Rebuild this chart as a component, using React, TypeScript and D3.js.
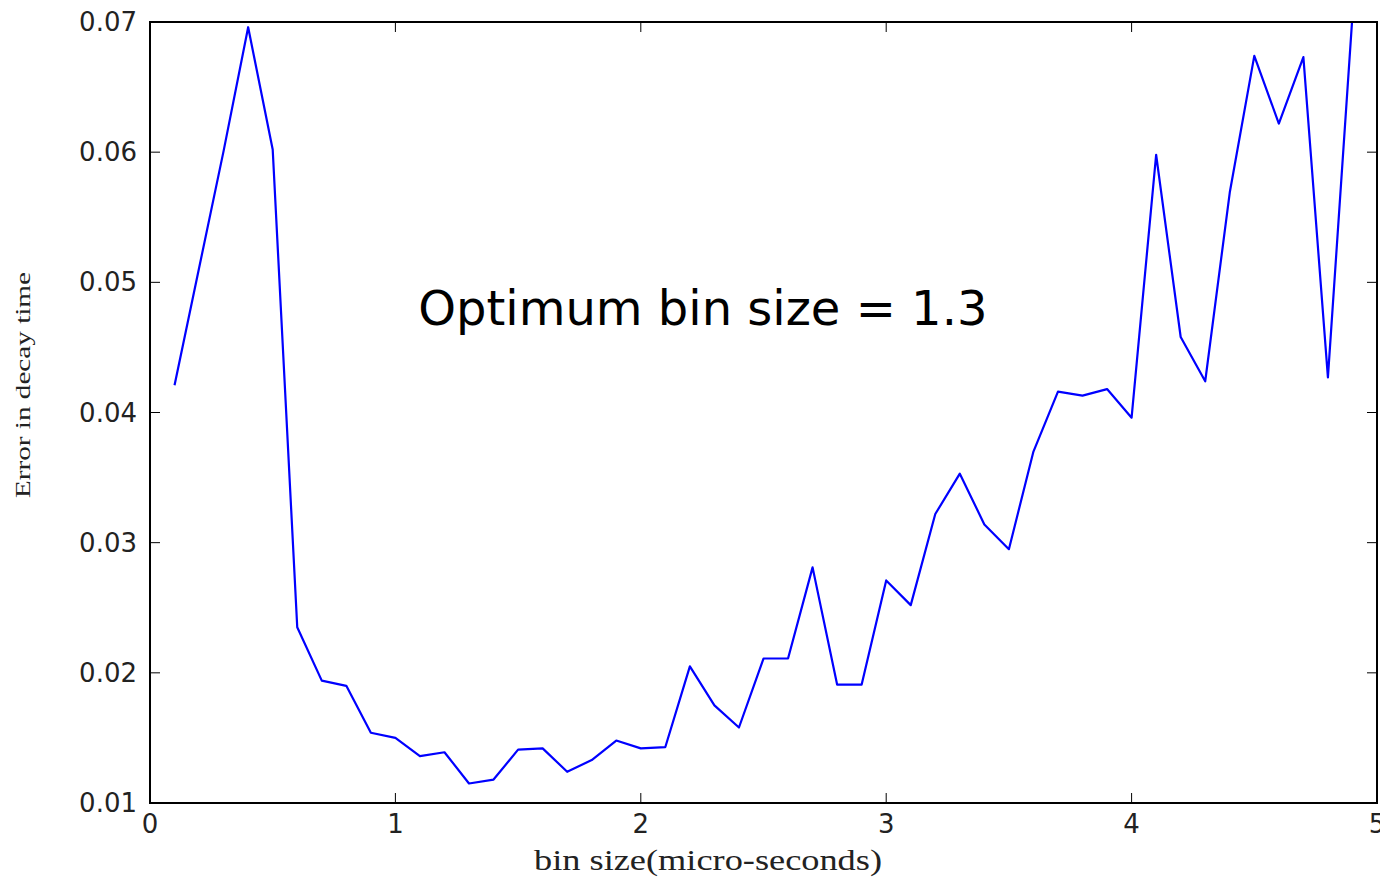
import React, { useEffect, useRef } from 'react'
import * as d3 from 'd3'

// bin size (micro-seconds) vs error in fitted decay time
const binSizes = [
    0.1, 0.2, 0.3, 0.4, 0.5, 0.6, 0.7, 0.8, 0.9, 1.0,
    1.1, 1.2, 1.3, 1.4, 1.5, 1.6, 1.7, 1.8, 1.9, 2.0,
    2.1, 2.2, 2.3, 2.4, 2.5, 2.6, 2.7, 2.8, 2.9, 3.0,
    3.1, 3.2, 3.3, 3.4, 3.5, 3.6, 3.7, 3.8, 3.9, 4.0,
    4.1, 4.2, 4.3, 4.4, 4.5, 4.6, 4.7, 4.8, 4.9
]
const decayErrors = [
    0.0421, 0.0511, 0.0601, 0.0696, 0.0602, 0.0235, 0.0194, 0.0190, 0.0154, 0.0150,
    0.0136, 0.0139, 0.0115, 0.0118, 0.0141, 0.0142, 0.0124, 0.0133, 0.0148, 0.0142,
    0.0143, 0.0205, 0.0175, 0.0158, 0.0211, 0.0211, 0.0281, 0.0191, 0.0191, 0.0271,
    0.0252, 0.0322, 0.0353, 0.0314, 0.0295, 0.0370, 0.0416, 0.0413, 0.0418, 0.0396,
    0.0598, 0.0458, 0.0424, 0.0569, 0.0674, 0.0622, 0.0673, 0.0427, 0.0705
]
const xTicks = [0, 1, 2, 3, 4, 5]
const yTicks = [0.01, 0.02, 0.03, 0.04, 0.05, 0.06, 0.07]
const annotation = "Optimum bin size = 1.3"

const W = 1380, H = 878
const margin = { top: 22, right: 3, bottom: 75, left: 150 }

const App = () => {
    const ref = useRef<SVGSVGElement>(null)

    useEffect(() => {
        const svg = d3.select(ref.current)
        svg.selectAll("*").remove()

        const width = W - margin.left - margin.right,
            height = H - margin.top - margin.bottom

        const x = d3.scaleLinear().domain([0, 5]).range([0, width])
        const y = d3.scaleLinear().domain([0.01, 0.07]).range([height, 0])

        const g = svg.append("g")
            .attr("transform", `translate(${margin.left},${margin.top})`)

        g.append("clipPath").attr("id", "plot-clip")
            .append("rect").attr("width", width).attr("height", height)

        // data line
        const pts = binSizes.map((b, i) => [b, decayErrors[i]] as [number, number])
        g.append("path")
            .datum(pts)
            .attr("clip-path", "url(#plot-clip)")
            .attr("fill", "none")
            .attr("stroke", "#0000ff")
            .attr("stroke-width", 2.2)
            .attr("stroke-linejoin", "round")
            .attr("d", d3.line().x(d => x(d[0])).y(d => y(d[1])))

        // inward ticks on all four sides (matplotlib classic)
        const tickLen = 10
        const inner = xTicks.slice(1, -1)
        const yInner = yTicks.slice(1, -1)
        const ticks = g.append("g").attr("stroke", "black").attr("stroke-width", 1)
        ticks.selectAll(".xb").data(inner).enter().append("line")
            .attr("x1", d => x(d)).attr("x2", d => x(d))
            .attr("y1", height).attr("y2", height - tickLen)
        ticks.selectAll(".xt").data(inner).enter().append("line")
            .attr("x1", d => x(d)).attr("x2", d => x(d))
            .attr("y1", 0).attr("y2", tickLen)
        ticks.selectAll(".yl").data(yInner).enter().append("line")
            .attr("y1", d => y(d)).attr("y2", d => y(d))
            .attr("x1", 0).attr("x2", tickLen)
        ticks.selectAll(".yr").data(yInner).enter().append("line")
            .attr("y1", d => y(d)).attr("y2", d => y(d))
            .attr("x1", width).attr("x2", width - tickLen)

        // frame
        g.append("rect")
            .attr("width", width).attr("height", height)
            .attr("fill", "none").attr("stroke", "black").attr("stroke-width", 2)

        // tick labels
        g.append("g").selectAll("text").data(xTicks).enter().append("text")
            .attr("x", d => x(d)).attr("y", height + 30)
            .attr("text-anchor", "middle")
            .attr("font-family", "DejaVu Sans").attr("font-size", 26)
            .attr("fill", "#222")
            .text(d => d)
        g.append("g").selectAll("text").data(yTicks).enter().append("text")
            .attr("x", -13).attr("y", d => y(d) + 9)
            .attr("text-anchor", "end")
            .attr("font-family", "DejaVu Sans").attr("font-size", 26)
            .attr("fill", "#222")
            .text(d => d3.format(".2f")(d))

        // axis titles
        svg.append("text")
            .attr("x", 708).attr("y", 870)
            .attr("text-anchor", "middle")
            .attr("font-family", "Liberation Serif").attr("font-size", 30)
            .attr("textLength", 348).attr("lengthAdjust", "spacingAndGlyphs")
            .attr("fill", "#222")
            .text("bin size(micro-seconds)")
        svg.append("text")
            .attr("transform", "translate(30,385) rotate(-90)")
            .attr("text-anchor", "middle")
            .attr("font-family", "Liberation Serif").attr("font-size", 21)
            .attr("textLength", 226).attr("lengthAdjust", "spacingAndGlyphs")
            .attr("fill", "#222")
            .text("Error in decay time")

        // annotation
        g.append("text")
            .attr("x", x(1.093)).attr("y", y(0.04672))
            .attr("font-family", "DejaVu Sans").attr("font-size", 48)
            .text(annotation)
    }, [])

    return (
        <div style={{ position: "fixed", left: 0, top: 0, width: W, height: H, background: "white" }}>
            <svg ref={ref} width={W} height={H} style={{ display: "block" }} />
        </div>
    )
}

export default App
